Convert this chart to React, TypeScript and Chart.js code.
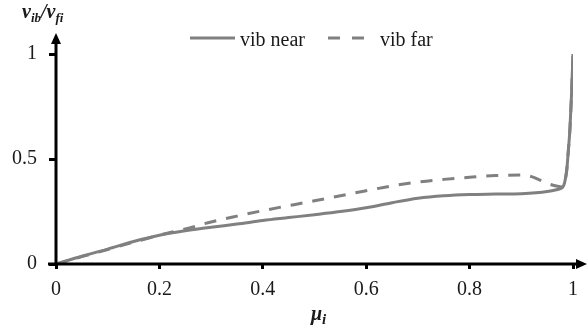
import { useEffect, useRef } from 'react';
import { Chart, registerables } from 'chart.js';

Chart.register(...registerables);

// Relative position along the span (μ) and normalised vibration ratio
const muNear = [0, 0.05, 0.1, 0.15, 0.2, 0.25, 0.3, 0.35, 0.4, 0.45, 0.5, 0.55, 0.6, 0.65, 0.7, 0.75, 0.8, 0.85, 0.9, 0.95, 0.97, 0.98, 0.984, 0.988, 0.991, 0.994, 0.997, 1.0];
const vibNear = [0, 0.037, 0.071, 0.107, 0.137, 0.158, 0.175, 0.19, 0.207, 0.221, 0.235, 0.25, 0.268, 0.292, 0.313, 0.325, 0.331, 0.333, 0.335, 0.345, 0.355, 0.365, 0.39, 0.45, 0.54, 0.64, 0.8, 1.0];

const muFar = [0, 0.05, 0.1, 0.15, 0.2, 0.25, 0.3, 0.35, 0.4, 0.5, 0.6, 0.65, 0.7, 0.75, 0.8, 0.85, 0.9, 0.92, 0.94, 0.955, 0.97, 0.98, 0.984, 0.988, 0.991, 0.994, 0.997, 1.0];
const vibFar = [0, 0.035, 0.069, 0.104, 0.137, 0.167, 0.2, 0.228, 0.254, 0.301, 0.349, 0.372, 0.39, 0.403, 0.413, 0.421, 0.424, 0.416, 0.395, 0.38, 0.37, 0.367, 0.39, 0.45, 0.54, 0.64, 0.8, 1.0];

const seriesLabels = ['vib near', 'vib far'];
const xTicks = [0, 0.2, 0.4, 0.6, 0.8, 1];
const yTicks = [0, 0.5, 1];

const LINE_GRAY = '#808080';
const INK = '#1a1a1a';
const SERIF = '"Liberation Serif", "Times New Roman", serif';

const decorations = {
  id: 'decorations',
  afterDraw(chart: any) {
    const { ctx, chartArea } = chart;
    const { left, bottom } = chartArea;
    ctx.save();

    // axis lines with arrow heads
    ctx.strokeStyle = '#000';
    ctx.fillStyle = '#000';
    ctx.lineWidth = 3;
    ctx.setLineDash([]);
    ctx.beginPath();
    ctx.moveTo(left, bottom + 1.5);
    ctx.lineTo(left, 42);
    ctx.moveTo(left - 8, bottom);
    ctx.lineTo(578, bottom);
    ctx.stroke();

    ctx.beginPath();
    ctx.moveTo(left, 33);
    ctx.lineTo(left - 5, 44);
    ctx.lineTo(left + 5, 44);
    ctx.closePath();
    ctx.fill();

    ctx.beginPath();
    ctx.moveTo(587, bottom);
    ctx.lineTo(576, bottom - 5);
    ctx.lineTo(576, bottom + 5);
    ctx.closePath();
    ctx.fill();

    // legend
    const ly = 38;
    ctx.strokeStyle = LINE_GRAY;
    ctx.lineWidth = 3;
    ctx.beginPath();
    ctx.moveTo(190, ly);
    ctx.lineTo(235, ly);
    ctx.stroke();
    ctx.setLineDash([12, 12]);
    ctx.beginPath();
    ctx.moveTo(328, ly);
    ctx.lineTo(366, ly);
    ctx.stroke();
    ctx.setLineDash([]);

    ctx.fillStyle = INK;
    ctx.textBaseline = 'alphabetic';
    ctx.textAlign = 'left';
    ctx.font = `20px ${SERIF}`;
    ctx.fillText(seriesLabels[0], 240, 46);
    ctx.fillText(seriesLabels[1], 380, 46);

    // y-axis title: v_ib / v_fi
    const big = `italic bold 20px ${SERIF}`;
    const sub = `italic bold 13px ${SERIF}`;
    let x = 22;
    const parts: [string, string, number][] = [
      ['v', big, 18],
      ['ib', sub, 22],
      ['/', big, 18],
      ['v', big, 18],
      ['fi', sub, 22],
    ];
    for (const [t, f, y] of parts) {
      ctx.font = f;
      ctx.fillText(t, x, y);
      x += ctx.measureText(t).width;
    }

    // x-axis title: μ_i
    ctx.font = big;
    ctx.fillText('μ', 311, 320);
    const mw = ctx.measureText('μ').width;
    ctx.font = `italic bold 15px ${SERIF}`;
    ctx.fillText('i', 311 + mw, 324);

    ctx.restore();
  },
};

export default function App() {
  const canvasRef = useRef<HTMLCanvasElement | null>(null);

  useEffect(() => {
    document.body.style.margin = '0';
    const canvas = canvasRef.current;
    if (!canvas) return;

    const near = muNear.map((m, i) => ({ x: m, y: vibNear[i] }));
    const far = muFar.map((m, i) => ({ x: m, y: vibFar[i] }));

    const tickFont = { family: SERIF, size: 20 };

    const chart = new Chart(canvas, {
      type: 'line',
      data: {
        datasets: [
          {
            label: seriesLabels[1],
            data: far,
            borderColor: LINE_GRAY,
            borderWidth: 3,
            borderDash: [12, 10],
            pointRadius: 0,
            fill: false,
            cubicInterpolationMode: 'monotone',
          },
          {
            label: seriesLabels[0],
            data: near,
            borderColor: LINE_GRAY,
            borderWidth: 3,
            pointRadius: 0,
            fill: false,
            cubicInterpolationMode: 'monotone',
          },
        ],
      },
      options: {
        responsive: false,
        animation: false,
        layout: { padding: { top: 54, right: 14, left: 0, bottom: 0 } },
        plugins: {
          legend: { display: false },
          tooltip: { enabled: false },
        },
        scales: {
          x: {
            type: 'linear',
            min: 0,
            max: 1,
            afterBuildTicks: (scale: any) => {
              scale.ticks = xTicks.map((v) => ({ value: v }));
            },
            afterFit: (scale: any) => {
              scale.height = 72;
            },
            ticks: {
              font: tickFont,
              color: INK,
              padding: 9,
              maxRotation: 0,
              callback: (v: any) => String(v),
            },
            grid: {
              drawOnChartArea: false,
              drawTicks: true,
              tickLength: 5,
              tickWidth: 3,
              tickColor: '#000',
            },
            border: { display: false },
          },
          y: {
            type: 'linear',
            min: 0,
            max: 1,
            afterBuildTicks: (scale: any) => {
              scale.ticks = yTicks.map((v) => ({ value: v }));
            },
            afterFit: (scale: any) => {
              scale.width = 56;
            },
            ticks: {
              font: tickFont,
              color: INK,
              padding: 12,
              callback: (v: any) => String(v),
            },
            grid: {
              drawOnChartArea: false,
              drawTicks: true,
              tickLength: 7,
              tickWidth: 3,
              tickColor: '#000',
            },
            border: { display: false },
          },
        },
      },
      plugins: [decorations],
    });

    return () => chart.destroy();
  }, []);

  return (
    <div style={{ width: 587, height: 336 }}>
      <canvas ref={canvasRef} width={587} height={336} />
    </div>
  );
}
